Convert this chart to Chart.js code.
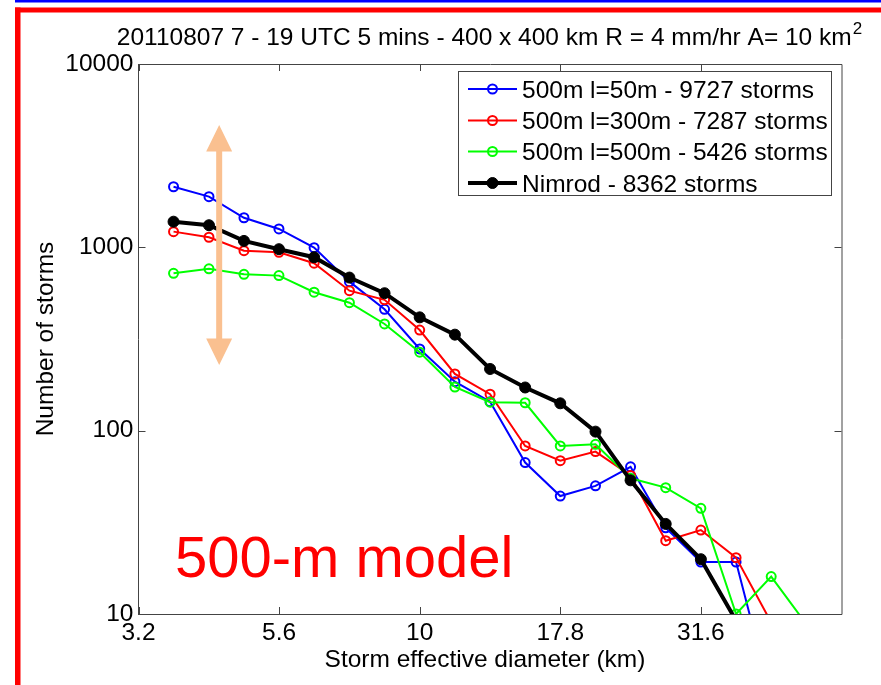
<!DOCTYPE html>
<html>
<head>
<meta charset="utf-8">
<script src="https://cdn.jsdelivr.net/npm/chart.js@4.4.1/dist/chart.umd.min.js"></script>
<style>
  html, body { margin: 0; padding: 0; background: #fff; }
  canvas { display: block; }
</style>
</head>
<body>
<canvas id="chart" width="881" height="685"></canvas>
<script>
// storm effective diameter (km), one per size bin
const diameters = [3.65, 4.22, 4.87, 5.62, 6.49, 7.50, 8.66, 10.0, 11.55, 13.34,
  15.40, 17.78, 20.54, 23.71, 27.38, 31.62, 36.52, 42.17, 48.70];

// number of storms per bin (values under 10 run off the bottom of the axis)
const storms50m  = [2140, 1890, 1450, 1260, 996, 650, 459, 279, 185, 144, 67, 44, 50, 63.5, 29.5, 19.2, 19.2, 3.5];
const storms300m = [1218, 1135, 959, 940, 819, 580, 517, 354, 204, 158, 82.5, 68.6, 76.9, 57, 25.1, 28.7, 20.3, 9];
const storms500m = [722, 763, 713, 701, 569, 499, 382, 268, 173, 143, 142, 82.5, 84.3, 55, 48.9, 37.7, 10, 16, 8.8];
const nimrod     = [1380, 1320, 1084, 977, 883, 684, 562, 415, 334, 217, 172, 141, 98.8, 53.6, 31, 19.9, 9.2];

const seriesLabels = [
  '500m l=50m - 9727 storms',
  '500m l=300m - 7287 storms',
  '500m l=500m - 5426 storms',
  'Nimrod - 8362 storms',
];

const xTickValues = [3.1623, 5.6234, 10, 17.783, 31.623];
const xTickLabels = ['3.2', '5.6', '10', '17.8', '31.6'];
const yTickValues = [10, 100, 1000, 10000];
const yTickLabels = ['10', '100', '1000', '10000'];

const X_MIN = 3.1623;
const X_MAX = 56.234;
const Y_MIN = 10;
const Y_MAX = 10000;

const FONT = '"Liberation Sans", Arial, Helvetica, sans-serif';
const TEXT_SIZE = 24.5;
const TITLE = '20110807 7 - 19 UTC 5 mins - 400 x 400 km R = 4 mm/hr A= 10 km';
const ARROW = { x: 4.4, yTop: 4650, yBottom: 228, color: '#fac090' };

function toPoints(values) {
  return values.map((value, index) => ({ x: diameters[index], y: value }));
}

function openSeries(label, values, color, order) {
  return {
    label,
    data: toPoints(values),
    borderColor: color,
    borderWidth: 2,
    pointRadius: 4.5,
    pointBorderWidth: 2,
    pointBorderColor: color,
    pointBackgroundColor: 'rgba(0,0,0,0)',
    pointStyle: 'circle',
    order,
    clip: { left: 8, top: 8, right: 8, bottom: 0 },
  };
}

const datasets = [
  openSeries(seriesLabels[0], storms50m, '#0000ff', 4),
  openSeries(seriesLabels[1], storms300m, '#ff0000', 3),
  openSeries(seriesLabels[2], storms500m, '#00ff00', 2),
  {
    label: seriesLabels[3],
    data: toPoints(nimrod),
    borderColor: '#000',
    borderWidth: 4,
    pointRadius: 5.5,
    pointBorderWidth: 1,
    pointBorderColor: '#000',
    pointBackgroundColor: '#000',
    order: 1,
    clip: { left: 8, top: 8, right: 8, bottom: 0 },
  },
];

function drawMarker(ctx, x, y, ds) {
  ctx.beginPath();
  ctx.arc(x, y, ds.pointRadius, 0, Math.PI * 2);
  ctx.lineWidth = ds.pointBorderWidth;
  ctx.strokeStyle = ds.pointBorderColor;
  ctx.fillStyle = ds.pointBackgroundColor;
  ctx.fill();
  ctx.stroke();
}

const frame = {
  id: 'frame',
  beforeDraw(chart) {
    const { ctx, width, height } = chart;
    ctx.save();
    ctx.fillStyle = '#fff';
    ctx.fillRect(0, 0, width, height);
    ctx.fillStyle = '#0000ff';
    ctx.fillRect(15, 0, width - 15, 2.5);
    ctx.fillStyle = '#ff0000';
    ctx.fillRect(15, 7.5, width - 15, 5);
    ctx.fillRect(15, 7.5, 5.5, height);
    ctx.restore();
  },
  afterDraw(chart) {
    const { ctx, chartArea } = chart;
    const { left, right, top, bottom } = chartArea;
    const xScale = chart.scales.x;
    const yScale = chart.scales.y;

    ctx.save();

    // box and inward ticks
    ctx.strokeStyle = '#444';
    ctx.lineWidth = 1;
    ctx.beginPath();
    ctx.moveTo(left + 0.5, top + 0.5);
    ctx.lineTo(right + 0.5, top + 0.5);
    ctx.lineTo(right + 0.5, bottom + 0.5);
    xTickValues.forEach(v => {
      const px = Math.round(xScale.getPixelForValue(v)) + 0.5;
      ctx.moveTo(px, bottom);
      ctx.lineTo(px, bottom - 7);
      ctx.moveTo(px, top);
      ctx.lineTo(px, top + 7);
    });
    yTickValues.forEach(v => {
      const py = Math.round(yScale.getPixelForValue(v)) + 0.5;
      ctx.moveTo(left, py);
      ctx.lineTo(left + 7, py);
      ctx.moveTo(right, py);
      ctx.lineTo(right - 7, py);
    });
    ctx.stroke();

    // arrow
    const ax = xScale.getPixelForValue(ARROW.x);
    const ay1 = yScale.getPixelForValue(ARROW.yTop);
    const ay2 = yScale.getPixelForValue(ARROW.yBottom);
    const head = 26.5;
    const half = 13;
    ctx.fillStyle = ARROW.color;
    ctx.fillRect(ax - 3, ay1 + head - 1, 6, ay2 - ay1 - 2 * head + 2);
    ctx.beginPath();
    ctx.moveTo(ax, ay1);
    ctx.lineTo(ax + half, ay1 + head);
    ctx.lineTo(ax - half, ay1 + head);
    ctx.closePath();
    ctx.moveTo(ax, ay2);
    ctx.lineTo(ax + half, ay2 - head);
    ctx.lineTo(ax - half, ay2 - head);
    ctx.closePath();
    ctx.fill();

    // legend
    const box = { left: 458.5, top: 71.5, right: 831.5, bottom: 195.5 };
    const rowY = [89, 120.5, 151.5, 183];
    ctx.fillStyle = '#fff';
    ctx.fillRect(box.left, box.top, box.right - box.left, box.bottom - box.top);
    ctx.strokeStyle = '#444';
    ctx.lineWidth = 1;
    ctx.strokeRect(box.left, box.top, box.right - box.left, box.bottom - box.top);
    ctx.font = `${TEXT_SIZE}px ${FONT}`;
    ctx.textAlign = 'left';
    ctx.textBaseline = 'alphabetic';
    chart.data.datasets.forEach((ds, i) => {
      const y = rowY[i];
      ctx.beginPath();
      ctx.moveTo(468, y);
      ctx.lineTo(517, y);
      ctx.lineWidth = ds.borderWidth;
      ctx.strokeStyle = ds.borderColor;
      ctx.stroke();
      drawMarker(ctx, 492.5, y, ds);
      ctx.fillStyle = '#000';
      ctx.fillText(ds.label, 522, y + 8.5);
    });

    // title with superscript
    ctx.fillStyle = '#000';
    ctx.font = `17px ${FONT}`;
    const supW = ctx.measureText('2').width;
    ctx.font = `${TEXT_SIZE}px ${FONT}`;
    const titleW = ctx.measureText(TITLE).width;
    const tx = 489 - (titleW + supW) / 2;
    ctx.fillText(TITLE, tx, 45);
    ctx.font = `17px ${FONT}`;
    ctx.fillText('2', tx + titleW + 1, 34);

    // axis titles
    ctx.font = `${TEXT_SIZE}px ${FONT}`;
    ctx.textAlign = 'center';
    ctx.fillText('Storm effective diameter (km)', 485, 667);
    ctx.save();
    ctx.translate(53, (top + bottom) / 2);
    ctx.rotate(-Math.PI / 2);
    ctx.fillText('Number of storms', 0, 0);
    ctx.restore();

    // annotation
    ctx.fillStyle = '#ff0000';
    ctx.font = `58px ${FONT}`;
    ctx.textAlign = 'left';
    ctx.fillText('500-m model', 175, 577);

    ctx.restore();
  },
};

new Chart(document.getElementById('chart'), {
  type: 'line',
  data: { datasets },
  options: {
    responsive: false,
    devicePixelRatio: 1,
    animation: false,
    layout: { padding: { top: 64, right: 39.5, left: 0, bottom: 0 } },
    plugins: {
      legend: { display: false },
      tooltip: { enabled: false },
    },
    scales: {
      x: {
        type: 'logarithmic',
        min: X_MIN,
        max: X_MAX,
        afterBuildTicks: scale => { scale.ticks = xTickValues.map(value => ({ value })); },
        afterFit: scale => { scale.height = 71; },
        ticks: {
          callback: (value, index) => xTickLabels[index],
          font: { family: FONT, size: TEXT_SIZE },
          color: '#000',
          padding: 5,
          maxRotation: 0,
          autoSkip: false,
        },
        grid: { drawOnChartArea: false, drawTicks: false },
        border: { display: true, color: '#444', width: 1 },
      },
      y: {
        type: 'logarithmic',
        min: Y_MIN,
        max: Y_MAX,
        afterBuildTicks: scale => { scale.ticks = yTickValues.map(value => ({ value })); },
        afterFit: scale => { scale.width = 138.5; },
        ticks: {
          callback: (value, index) => yTickLabels[index],
          font: { family: FONT, size: TEXT_SIZE },
          color: '#000',
          padding: 5,
          autoSkip: false,
        },
        grid: { drawOnChartArea: false, drawTicks: false },
        border: { display: true, color: '#444', width: 1 },
      },
    },
  },
  plugins: [frame],
});
</script>
</body>
</html>
